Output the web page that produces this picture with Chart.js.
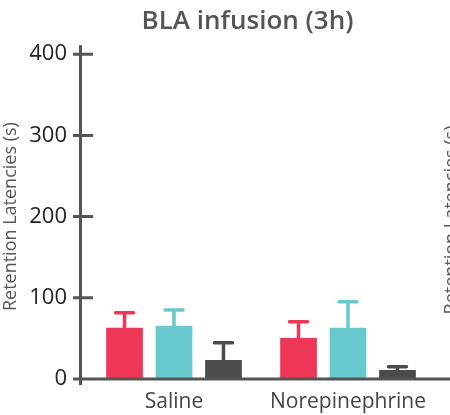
<!DOCTYPE html>
<html>
<head>
<meta charset="utf-8">
<script src="https://cdn.jsdelivr.net/npm/chart.js@4"></script>
<style>
  html, body { margin: 0; padding: 0; background: #fff; overflow: hidden; }
  canvas { display: block; }
</style>
</head>
<body>
<canvas id="myChart" width="450" height="415"></canvas>
<script>
const groups = ['Saline', 'Norepinephrine'];
const seriesNames = ['Group 1', 'Group 2', 'Group 3'];
const meansA = [63, 50.5];
const errA = [18.5, 20];
const meansB = [65.5, 63];
const errB = [19.5, 32];
const meansC = [23.5, 11];
const errC = [21, 4];
const yTicks = [0, 100, 200, 300, 400];

const colors = ['#ee3656', '#67c9ce', '#4a4b4d'];
const axisColor = '#555';
const fontFamily = '"Open Sans", "Noto Sans", sans-serif';

// upper-only error bars with a rounded cap
const errorBars = {
    id: 'errorBars',
    afterDatasetsDraw(chart) {
        const ctx = chart.ctx;
        const y = chart.scales.y;
        chart.data.datasets.forEach((ds, i) => {
            const meta = chart.getDatasetMeta(i);
            meta.data.forEach((bar, j) => {
                const top = y.getPixelForValue(ds.data[j] + ds.errors[j]);
                ctx.save();
                ctx.strokeStyle = ds.backgroundColor;
                ctx.lineWidth = 3.5;
                ctx.lineCap = 'round';
                ctx.beginPath();
                ctx.moveTo(bar.x, bar.y);
                ctx.lineTo(bar.x, top);
                ctx.moveTo(bar.x - 9, top);
                ctx.lineTo(bar.x + 9, top);
                ctx.stroke();
                ctx.restore();
            });
        });
    }
};

// axis lines and crossing tick marks
const axes = {
    id: 'axes',
    afterLayout(chart) {
        // centre the title over the whole figure
        if (chart.titleBlock) {
            chart.titleBlock.left = 0;
            chart.titleBlock.right = 495;
        }
    },
    afterDatasetsDraw(chart) {
        const ctx = chart.ctx;
        const y = chart.scales.y;
        const ax = 80.5;
        const base = y.getPixelForValue(0);
        ctx.save();
        ctx.strokeStyle = axisColor;
        ctx.lineWidth = 3;
        ctx.beginPath();
        ctx.moveTo(ax, y.getPixelForValue(400) - 9);
        ctx.lineTo(ax, base + 6);
        yTicks.forEach(v => {
            const py = y.getPixelForValue(v);
            ctx.moveTo(ax - 7.5, py);
            ctx.lineTo(ax + 12.5, py);
        });
        ctx.moveTo(ax - 7.5, base);
        ctx.lineTo(chart.width, base);
        ctx.stroke();
        ctx.restore();
    },
    afterDraw(chart) {
        // axis title of the neighbouring panel, cut by the edge
        const ctx = chart.ctx;
        ctx.save();
        ctx.fillStyle = '#555';
        ctx.font = '18px ' + fontFamily;
        ctx.textAlign = 'center';
        ctx.textBaseline = 'middle';
        ctx.translate(452, 220);
        ctx.rotate(-Math.PI / 2);
        ctx.fillText('Retention Latencies (s)', 0, 0);
        ctx.restore();
    }
};

const ctx = document.getElementById('myChart').getContext('2d');

const myChart = new Chart(ctx, {
    type: 'bar',
    data: {
        labels: groups,
        datasets: [
            { label: seriesNames[0], data: meansA, errors: errA, backgroundColor: colors[0] },
            { label: seriesNames[1], data: meansB, errors: errB, backgroundColor: colors[1] },
            { label: seriesNames[2], data: meansC, errors: errC, backgroundColor: colors[2] }
        ]
    },
    options: {
        responsive: false,
        animation: false,
        categoryPercentage: 0.853,
        barPercentage: 0.742,
        layout: { padding: { left: 0, right: 15, top: 0, bottom: 0 } },
        plugins: {
            legend: { display: false },
            tooltip: { enabled: false },
            title: {
                display: true,
                text: 'BLA infusion (3h)',
                color: '#555',
                font: { family: fontFamily, size: 26, weight: '600' },
                padding: { top: 6, bottom: 17 }
            }
        },
        scales: {
            x: {
                grid: { display: false, drawTicks: false },
                border: { display: false },
                ticks: {
                    color: '#444',
                    padding: 10,
                    font: { family: fontFamily, size: 21 }
                },
                afterFit(scale) { scale.height = 36; }
            },
            y: {
                min: 0,
                max: 400,
                grid: { display: false, drawTicks: false },
                border: { display: false },
                ticks: {
                    stepSize: 100,
                    color: '#222',
                    padding: 20,
                    font: { family: fontFamily, size: 22 }
                },
                title: {
                    display: true,
                    text: 'Retention Latencies (s)',
                    color: '#555',
                    padding: 0,
                    font: { family: fontFamily, size: 18 }
                },
                afterFit(scale) { scale.width = 87; }
            }
        }
    },
    plugins: [errorBars, axes]
});
</script>
</body>
</html>
